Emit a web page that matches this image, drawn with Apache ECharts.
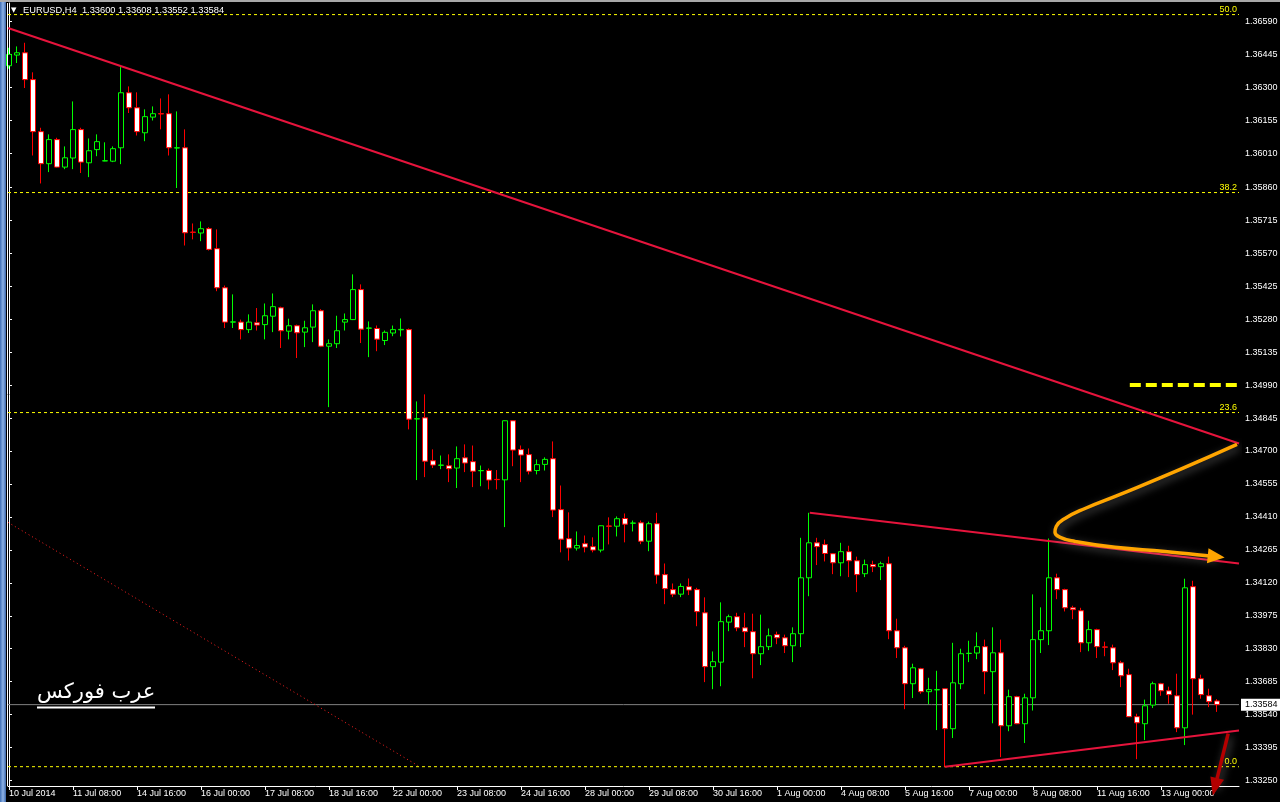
<!DOCTYPE html>
<html><head><meta charset="utf-8">
<script src="https://cdn.jsdelivr.net/npm/echarts@6/dist/echarts.min.js"></script>
<style>html,body{margin:0;padding:0;background:#000;overflow:hidden}#c{width:1280px;height:802px}</style>
</head><body><div id="c"></div>
<script>
// ---------- data ----------
const chartTitle = 'EURUSD,H4  1.33600 1.33608 1.33552 1.33584';
const timeLabels = ['10 Jul 2014','11 Jul 08:00','14 Jul 16:00','16 Jul 00:00','17 Jul 08:00','18 Jul 16:00','22 Jul 00:00','23 Jul 08:00','24 Jul 16:00','28 Jul 00:00','29 Jul 08:00','30 Jul 16:00','1 Aug 00:00','4 Aug 08:00','5 Aug 16:00','7 Aug 00:00','8 Aug 08:00','11 Aug 16:00','13 Aug 00:00'];
const barsPerTimeLabel = 8;
const priceTicks = [1.36590,1.36445,1.36300,1.36155,1.36010,1.35860,1.35715,1.35570,1.35425,1.35280,1.35135,1.34990,1.34845,1.34700,1.34555,1.34410,1.34265,1.34120,1.33975,1.33830,1.33685,1.33540,1.33395,1.33250];

const opens = [1.36395,1.36442,1.36452,1.36334,1.36105,1.35964,1.36070,1.35949,1.35989,1.36114,1.35968,1.36026,1.35976,1.35975,1.36034,1.36276,1.36210,1.36100,1.36169,1.36184,
1.36184,1.36033,1.36034,1.35663,1.35659,1.35678,1.35590,1.35418,1.35267,1.35267,1.35234,1.35264,1.35256,1.35293,1.35330,1.35227,1.35251,1.35223,1.35245,1.35317,
1.35161,1.35172,1.35267,1.35278,1.35410,1.35240,1.35239,1.35186,1.35219,1.35233,1.35234,1.34841,1.34846,1.34657,1.34637,1.34635,1.34625,1.34670,1.34653,1.34613,
1.34614,1.34575,1.34573,1.34833,1.34706,1.34684,1.34614,1.34641,1.34666,1.34442,1.34314,1.34273,1.34292,1.34279,1.34264,1.34370,1.34369,1.34403,1.34382,1.34384,
1.34303,1.34380,1.34156,1.34090,1.34070,1.34103,1.34090,1.33988,1.33751,1.33771,1.33947,1.33971,1.33922,1.33905,1.33808,1.33839,1.33892,1.33878,1.33843,1.33896,
1.34142,1.34296,1.34288,1.34248,1.34208,1.34257,1.34217,1.34160,1.34200,1.34191,1.34204,1.33909,1.33834,1.33676,1.33742,1.33641,1.33649,1.33654,1.33478,1.33676,
1.33809,1.33811,1.33839,1.33729,1.33812,1.33491,1.33619,1.33500,1.33614,1.33870,1.33909,1.34142,1.34090,1.34010,1.33997,1.33856,1.33914,1.33838,1.33834,1.33768,
1.33716,1.33531,1.33500,1.33582,1.33676,1.33645,1.33623,1.33482,1.34103,1.33698,1.33623,1.33600];
const closes = [1.36445,1.36452,1.36334,1.36105,1.35964,1.36070,1.35949,1.35990,1.36114,1.35971,1.36021,1.36061,1.35977,1.36030,1.36276,1.36210,1.36105,1.36171,1.36184,1.36183,
1.36034,1.36034,1.35660,1.35662,1.35678,1.35587,1.35418,1.35267,1.35268,1.35234,1.35267,1.35254,1.35295,1.35335,1.35229,1.35251,1.35220,1.35242,1.35317,1.35161,
1.35172,1.35229,1.35278,1.35410,1.35236,1.35241,1.35192,1.35222,1.35234,1.35235,1.34840,1.34842,1.34655,1.34638,1.34638,1.34622,1.34666,1.34647,1.34611,1.34614,
1.34572,1.34574,1.34833,1.34704,1.34682,1.34611,1.34640,1.34663,1.34440,1.34312,1.34273,1.34284,1.34277,1.34264,1.34371,1.34369,1.34402,1.34378,1.34383,1.34303,
1.34380,1.34154,1.34094,1.34070,1.34104,1.34088,1.33993,1.33751,1.33773,1.33949,1.33971,1.33922,1.33905,1.33808,1.33839,1.33887,1.33878,1.33843,1.33896,1.34142,
1.34296,1.34279,1.34249,1.34208,1.34257,1.34217,1.34156,1.34200,1.34191,1.34204,1.33909,1.33834,1.33676,1.33746,1.33641,1.33650,1.33650,1.33478,1.33680,1.33808,
1.33810,1.33839,1.33729,1.33812,1.33491,1.33619,1.33500,1.33614,1.33870,1.33909,1.34142,1.34090,1.34010,1.34002,1.33856,1.33914,1.33839,1.33837,1.33768,1.33711,
1.33531,1.33504,1.33579,1.33676,1.33645,1.33628,1.33482,1.34098,1.33698,1.33628,1.33597,1.33584];
const lows = [1.36382,1.36407,1.36297,1.36000,1.35877,1.35927,1.35947,1.35940,1.35940,1.35923,1.35905,1.35997,1.35975,1.35971,1.35962,1.36187,1.36088,1.36063,1.36154,1.36115,
1.36000,1.35857,1.35604,1.35631,1.35623,1.35582,1.35403,1.35241,1.35241,1.35191,1.35219,1.35230,1.35191,1.35223,1.35153,1.35191,1.35109,1.35157,1.35179,1.35157,
1.34893,1.35153,1.35230,1.35276,1.35175,1.35113,1.35139,1.35166,1.35205,1.35204,1.34795,1.34572,1.34585,1.34625,1.34620,1.34563,1.34537,1.34607,1.34541,1.34545,
1.34531,1.34531,1.34365,1.34633,1.34563,1.34597,1.34597,1.34614,1.34409,1.34254,1.34218,1.34262,1.34254,1.34254,1.34254,1.34289,1.34324,1.34298,1.34346,1.34290,
1.34259,1.34116,1.34026,1.34057,1.34057,1.34066,1.33929,1.33683,1.33652,1.33665,1.33907,1.33907,1.33837,1.33700,1.33758,1.33824,1.33850,1.33811,1.33771,1.33837,
1.34061,1.34198,1.34214,1.34158,1.34149,1.34145,1.34079,1.34145,1.34167,1.34132,1.33872,1.33789,1.33564,1.33613,1.33632,1.33586,1.33472,1.33311,1.33437,1.33652,
1.33771,1.33784,1.33630,1.33502,1.33353,1.33467,1.33498,1.33415,1.33558,1.33811,1.33846,1.34048,1.33994,1.33960,1.33815,1.33819,1.33789,1.33797,1.33736,1.33661,
1.33529,1.33344,1.33428,1.33569,1.33623,1.33588,1.33463,1.33406,1.33540,1.33610,1.33573,1.33552];
const highs = [1.36474,1.36480,1.36496,1.36366,1.36122,1.36093,1.36078,1.36040,1.36238,1.36122,1.36075,1.36093,1.36058,1.36040,1.36389,1.36304,1.36278,1.36203,1.36216,1.36251,
1.36269,1.36194,1.36115,1.35701,1.35710,1.35685,1.35675,1.35428,1.35389,1.35278,1.35301,1.35329,1.35349,1.35393,1.35335,1.35282,1.35256,1.35273,1.35345,1.35324,
1.35191,1.35295,1.35305,1.35477,1.35433,1.35270,1.35252,1.35230,1.35252,1.35283,1.35239,1.34918,1.34949,1.34707,1.34680,1.34685,1.34720,1.34729,1.34724,1.34636,
1.34623,1.34616,1.34834,1.34834,1.34724,1.34711,1.34663,1.34672,1.34742,1.34548,1.34430,1.34346,1.34328,1.34320,1.34372,1.34408,1.34412,1.34425,1.34394,1.34394,
1.34389,1.34428,1.34205,1.34117,1.34117,1.34139,1.34098,1.34056,1.33818,1.34034,1.33980,1.33988,1.33988,1.33984,1.33980,1.33919,1.33905,1.33892,1.33924,1.34318,
1.34428,1.34318,1.34310,1.34250,1.34296,1.34283,1.34235,1.34222,1.34217,1.34213,1.34235,1.33962,1.33843,1.33764,1.33746,1.33702,1.33733,1.33655,1.33856,1.33830,
1.33865,1.33902,1.33870,1.33924,1.33870,1.33650,1.33623,1.33632,1.34069,1.34012,1.34315,1.34160,1.34094,1.34019,1.34010,1.33953,1.33918,1.33861,1.33848,1.33777,
1.33742,1.33544,1.33606,1.33685,1.33680,1.33663,1.33720,1.34138,1.34129,1.33716,1.33654,1.33608];

const fibLevels = [1.36620, 1.35837, 1.34869, 1.33311];
const fibNames = ['50.0', '38.2', '23.6', '0.0'];
const currentPrice = 1.33584;

// drawn objects, as [bar index, price]
const mainTrendLine = [[-0.125, 1.36561], [153.75, 1.34733]];
const triangleTop = [[100.1, 1.34428], [153.75, 1.34205]];
const triangleBottom = [[117, 1.33311], [153.75, 1.33470]];
const dottedLine = [[-0.125, 1.34386], [51.1, 1.33316]];
const targetDash = [[140.1, 1.34990], [153.5, 1.34990]];
const orangePath = [[153.5,1.34729],[146.4,1.34619],[138.9,1.34509],[134.5,1.34447],[132.0,1.34403],[130.9,1.34368],[130.75,1.34342],[131.4,1.34320],[133.25,1.34302],[138.25,1.34276],[144.5,1.34258],[149.5,1.34240],[150.9,1.34235]];
const redArrowPath = [[152.4, 1.33457], [150.75, 1.33222]];
const arabicText = 'عرب فوركس';

// ---------- chart ----------
const candles = opens.map((o, i) => [i, o, closes[i], lows[i], highs[i]]);
const FONT = 'Liberation Sans';
const chart = echarts.init(document.getElementById('c'), null, {renderer: 'canvas'});
const xTickValues = timeLabels.map((_, i) => i * barsPerTimeLabel);
const xMin = -0.125, xMax = 153.75;
const yMin = 1.33226, yMax = 1.36671;

function arrowData(path, rot, size, color) {
  return path.map((p, i) => i === path.length - 1
    ? {value: p, symbol: 'triangle', symbolSize: size, symbolRotate: rot, itemStyle: {color: color}}
    : {value: p, symbol: 'none'});
}

const fibSeries = fibLevels.map((v, i) => ({
  type: 'line', z: 1, silent: true, symbol: 'none',
  data: [[xMin, v], [xMax, v]],
  lineStyle: {color: '#ffff00', type: [3, 3], width: 1},
  endLabel: {show: true, formatter: fibNames[i], align: 'right', verticalAlign: 'bottom', distance: 0, offset: [-2, -1],
             color: '#ffff00', fontFamily: FONT, fontSize: 9}
}));

chart.setOption({
  backgroundColor: '#000',
  animation: false,
  grid: {left: 8, right: 41, top: 3, bottom: 16, containLabel: false, outerBoundsMode: 'none'},
  xAxis: {
    type: 'value', min: xMin, max: xMax,
    axisLine: {show: true, lineStyle: {color: '#fff', width: 1}},
    axisTick: {show: true, length: 4, lineStyle: {color: '#fff'}, customValues: xTickValues},
    axisLabel: {show: true, color: '#fff', fontFamily: FONT, fontSize: 9, align: 'left', margin: 3,
      customValues: xTickValues, formatter: v => timeLabels[Math.round(v / barsPerTimeLabel)] || ''},
    splitLine: {show: false}
  },
  yAxis: {
    type: 'value', position: 'right', min: yMin, max: yMax, scale: true,
    axisLine: {show: true, lineStyle: {color: '#fff', width: 1}},
    axisTick: {show: true, inside: false, length: 3, lineStyle: {color: '#fff'}, customValues: priceTicks},
    axisLabel: {show: true, color: '#fff', fontFamily: FONT, fontSize: 9, margin: 6,
      customValues: priceTicks, formatter: v => v.toFixed(5)},
    splitLine: {show: false}
  },
  graphic: [
    {type: 'rect', shape: {x: 0, y: 0, width: 6, height: 802}, style: {fill: new echarts.graphic.LinearGradient(0,0,1,0,[{offset:0,color:'#3f6fb5'},{offset:0.5,color:'#8fb3e6'},{offset:1,color:'#3a66aa'}])}, z: 100},
    {type: 'rect', shape: {x: 0, y: 0, width: 1280, height: 2}, style: {fill: '#a8a8a8'}, z: 100},
    {type: 'line', shape: {x1: 7.5, y1: 3, x2: 7.5, y2: 786}, style: {stroke: '#fff', lineWidth: 1}, z: 100},
    {type: 'text', left: 11, top: 7, style: {text: '▼', fill: '#fff', font: '7px "DejaVu Sans"'}, z: 100},
    {type: 'text', left: 23, top: 6, style: {text: chartTitle, fill: '#fff', font: '9.3px "Liberation Sans"'}, z: 100},
    {type: 'text', left: 37, top: 682, style: {text: arabicText, fill: '#fff', font: '21px "DejaVu Sans"'}, z: 100},
    {type: 'line', shape: {x1: 37, y1: 707.5, x2: 155, y2: 707.5}, style: {stroke: '#fff', lineWidth: 2}, z: 100}
  ],
  series: fibSeries.concat([
    {
      name: 'last', type: 'line', z: 1, silent: true, symbol: 'none',
      data: [[xMin, currentPrice], [xMax, currentPrice]],
      lineStyle: {color: '#808080', width: 1},
      endLabel: {show: true, formatter: () => currentPrice.toFixed(5), color: '#000', backgroundColor: '#fff',
        fontFamily: FONT, fontSize: 9, padding: [2, 3, 1, 4], distance: 2}
    },
    {
      name: 'EURUSD', type: 'candlestick', data: candles, barWidth: 5, z: 3, silent: true,
      itemStyle: {color: '#000', color0: '#fff', borderColor: '#00ff00', borderColor0: '#ff0000', borderWidth: 1}
    },
    {type: 'line', data: dottedLine, symbol: 'none', z: 4, silent: true, lineStyle: {color: '#ff2020', width: 1, type: [1, 3]}},
    {type: 'line', data: mainTrendLine, symbol: 'none', z: 5, silent: true, lineStyle: {color: '#e6143c', width: 2}},
    {type: 'line', data: triangleTop, symbol: 'none', z: 5, silent: true, lineStyle: {color: '#e6143c', width: 2}},
    {type: 'line', data: triangleBottom, symbol: 'none', z: 5, silent: true, lineStyle: {color: '#e6143c', width: 2}},
    {type: 'line', data: targetDash, symbol: 'none', z: 5, silent: true, lineStyle: {color: '#ffff00', width: 4, type: [11, 5]}},
    {
      type: 'line', data: arrowData(orangePath, -96, [15, 17], '#ffa500'), smooth: 0.5, showSymbol: true, symbol: 'none', z: 6, silent: true,
      lineStyle: {color: '#ffa500', width: 3.5, shadowColor: 'rgba(200,200,200,0.45)', shadowBlur: 8, shadowOffsetX: 2, shadowOffsetY: 3}
    },
    {
      type: 'line', data: arrowData(redArrowPath, 166, [14, 18], '#b40000'), showSymbol: true, symbol: 'none', z: 6, silent: true, clip: false,
      lineStyle: {color: '#b40000', width: 3.5, shadowColor: 'rgba(200,200,200,0.45)', shadowBlur: 8, shadowOffsetX: 2, shadowOffsetY: 3}
    }
  ])
});
</script>
</body></html>
